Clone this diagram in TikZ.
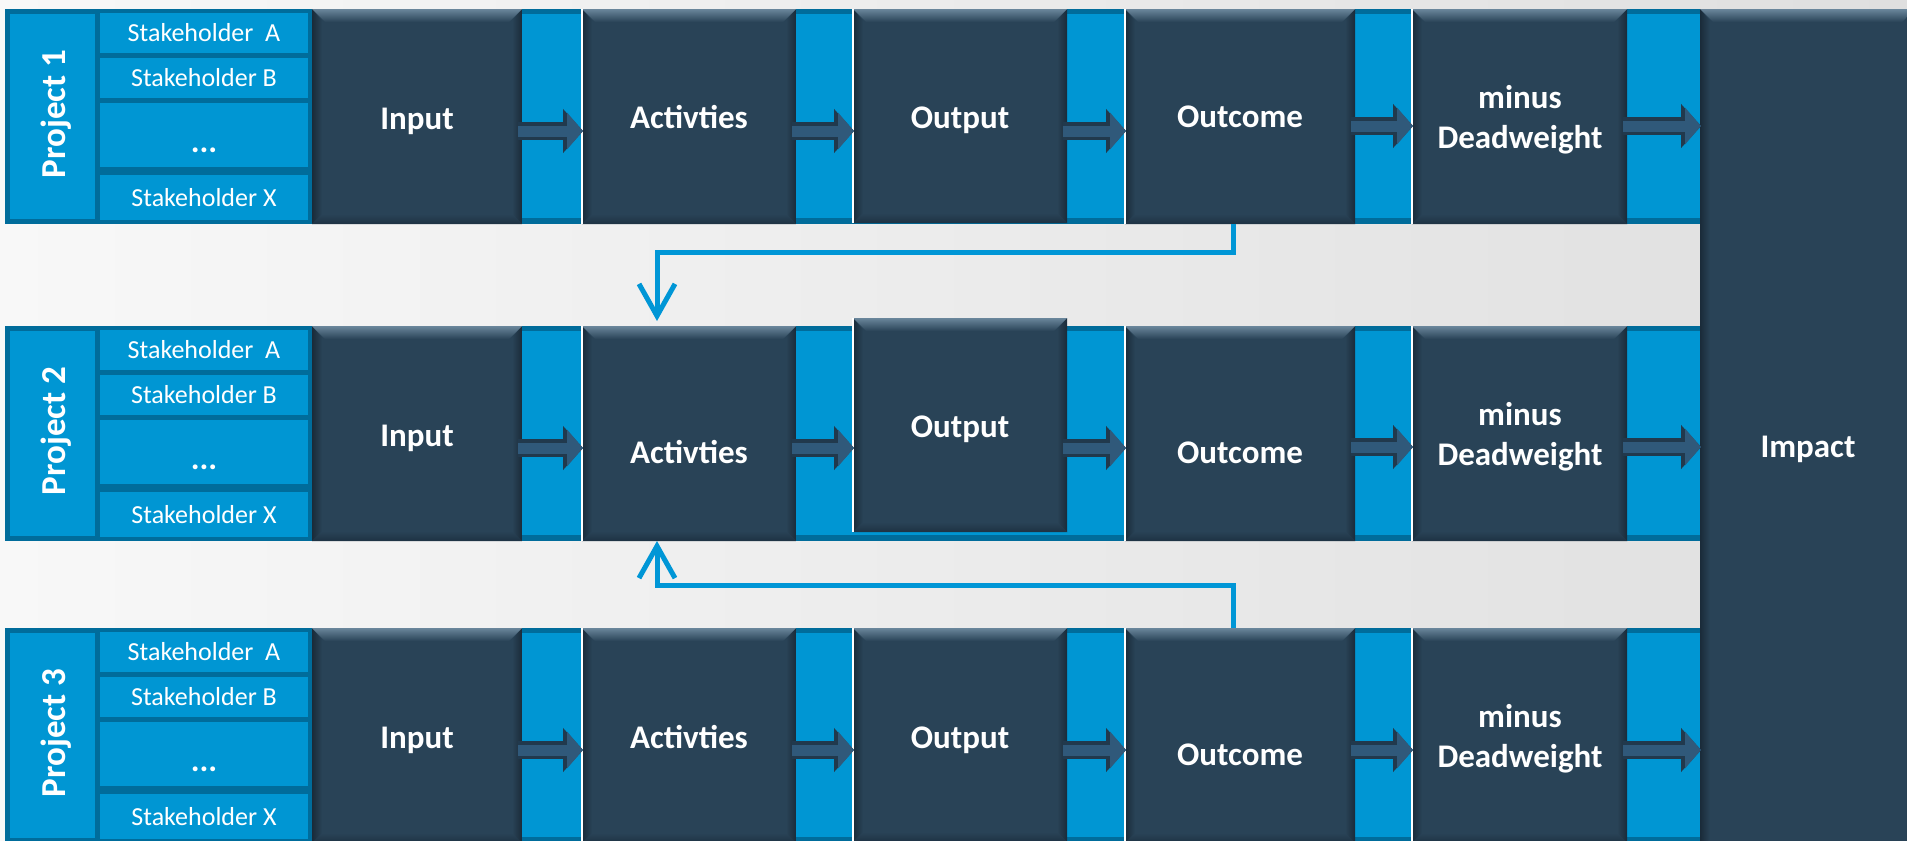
\documentclass[tikz,border=0pt]{standalone}
\usepackage{fontspec}
\setmainfont{Carlito}
\usetikzlibrary{arrows.meta,calc}
\definecolor{boxc}{HTML}{294357}
\definecolor{bevhi}{HTML}{6A869B}
\definecolor{sidedk}{HTML}{1A2B39}
\definecolor{botdk}{HTML}{1E3243}
\definecolor{bandblue}{HTML}{0096D3}
\definecolor{dblue}{HTML}{006C9B}
\definecolor{arrfill}{HTML}{30597A}
\definecolor{arrline}{HTML}{21394D}
\definecolor{connblue}{HTML}{0096D6}
\definecolor{bgl}{HTML}{F8F8F8}
\definecolor{bgr}{HTML}{DFDFDF}
\tikzset{
  dbox/.style={rectangle, fill=boxc, inner sep=0pt, outer sep=0pt, anchor=north west,
    path picture={
      \path (path picture bounding box.north west) coordinate (pNW)
            (path picture bounding box.north east) coordinate (pNE)
            (path picture bounding box.south west) coordinate (pSW)
            (path picture bounding box.south east) coordinate (pSE);
      \shade[left color=sidedk, right color=boxc] (pNW) -- ([shift={(10pt,-12pt)}]pNW) -- ([shift={(10pt,10pt)}]pSW) -- (pSW) -- cycle;
      \shade[left color=boxc, right color=sidedk] (pNE) -- ([shift={(-10pt,-12pt)}]pNE) -- ([shift={(-10pt,10pt)}]pSE) -- (pSE) -- cycle;
      \shade[top color=boxc, bottom color=botdk] (pSW) -- ([shift={(10pt,10pt)}]pSW) -- ([shift={(-10pt,10pt)}]pSE) -- (pSE) -- cycle;
      \shade[top color=bevhi, bottom color=boxc] (pNW) -- (pNE) -- ([shift={(-13pt,-13pt)}]pNE) -- ([shift={(13pt,-13pt)}]pNW) -- cycle;
    }},
  lbl/.style={text=white, font=\fontsize{33pt}{40pt}\selectfont\bfseries, inner sep=0pt, anchor=base},
  plbl/.style={text=white, font=\fontsize{35pt}{40pt}\selectfont\bfseries, inner sep=0pt, rotate=90},
  sk/.style={rectangle, fill=bandblue, inner sep=0pt, minimum width=208pt, text=white,
    font=\fontsize{26pt}{30pt}\selectfont},
  barrow/.style={draw=arrfill, line width=11pt, -{Triangle[width=36pt,length=16pt]},
    preaction={draw=arrline, line width=18pt, -{Triangle[width=43pt,length=20pt]}}},
  conn/.style={draw=connblue, line width=5pt, -{Straight Barb[length=32pt,width=36pt]}},
  wline/.style={draw=white, line width=1.2pt}
}
% #1 row top, #2 id, #3 project number, #4 activities baseline, #5 output box shift,
% #6 output baseline, #7 outcome baseline, #8 offset of the last two arrows
\newcommand\prow[8]{%
  \fill[bandblue] (5,#1) rectangle (1700,#1+215);
  \fill[dblue] (5,#1) rectangle (1700,#1+5);
  \fill[dblue] (5,#1+209) rectangle (1700,#1+215);
  \fill[dblue] (5,#1) rectangle (312,#1+215);
  \fill[bandblue] (10,#1+5) rectangle (95,#1+210);
  \node[plbl] (pr#2) at (56,#1+105) {Project #3};
  \node[sk, minimum height=40pt] (sa#2) at (204,#1+24) {Stakeholder\ \ A};
  \node[sk, minimum height=40pt] (sb#2) at (204,#1+69) {Stakeholder B};
  \node[sk, minimum height=64pt, text height=34pt, text depth=0pt] (sd#2) at (204,#1+126)
     {\fontsize{33pt}{40pt}\selectfont\bfseries ...};
  \node[sk, minimum height=45pt] (sx#2) at (204,#1+188.5) {Stakeholder X};
  \node[dbox, minimum width=210pt, minimum height=215pt] (in#2) at (312,#1) {};
  \node[dbox, minimum width=214pt, minimum height=215pt] (act#2) at (582,#1) {};
  \node[dbox, minimum width=214pt, minimum height=214pt] (op#2) at (853,#1+#5) {};
  \node[dbox, minimum width=230pt, minimum height=215pt] (oc#2) at (1125,#1) {};
  \node[dbox, minimum width=215pt, minimum height=215pt] (dw#2) at (1412,#1) {};
  \draw[wline] (act#2.north west) -- (act#2.south west);
  \draw[wline] (op#2.north west) -- (op#2.south west);
  \draw[wline] (oc#2.north west) -- (oc#2.south west);
  \draw[wline] (dw#2.north west) -- (dw#2.south west);
  \node[lbl] (in#2t) at (417,#1+120) {Input};
  \node[lbl] (act#2t) at (689,#1+#4) {Activties};
  \node[lbl] (op#2t) at (960,#1+#6) {Output};
  \node[lbl] (oc#2t) at (1240,#1+#7) {Outcome};
  \node[lbl, anchor=center, align=center] (dw#2t) at (1520,#1+111) {minus\\Deadweight};
  \coordinate (ar#2) at (0,#1+122);
  \coordinate (br#2) at (0,#1+122+#8);
  \draw[barrow] ($(in#2.east |- ar#2)+(-4,0)$) -- ($(act#2.west |- ar#2)+(1,0)$);
  \draw[barrow] ($(act#2.east |- ar#2)+(-4,0)$) -- ($(op#2.west |- ar#2)+(1,0)$);
  \draw[barrow] ($(op#2.east |- ar#2)+(-4,0)$) -- ($(oc#2.west |- ar#2)+(1,0)$);
  \draw[barrow] ($(oc#2.east |- br#2)+(-4,0)$) -- ($(dw#2.west |- br#2)+(1,0)$);
  \draw[barrow] ($(dw#2.east |- br#2)+(-4,0)$) -- ($(imp.west |- br#2)+(1,0)$);
}
\begin{document}
\begin{tikzpicture}[x=1pt,y=-1pt]
  \useasboundingbox (0,0) rectangle (1907,841);
  \shade[left color=bgl, right color=bgr] (0,0) rectangle (1907,841);
  \node[dbox, minimum width=215pt, minimum height=840pt] (imp) at (1700,9) {};
  \node[lbl] (impt) at (1808,457) {Impact};
  \prow{9}{1}{1}{119}{0}{119}{118}{-5}
  \prow{326}{2}{2}{137}{-8}{111}{137}{-1}
  \prow{628}{3}{3}{120}{0}{120}{137}{0}
  \draw[conn, shorten >=5pt] ([xshift=-7pt]oc1.south) -- ++(0,28) -| ([xshift=-32pt]act2.north);
  \draw[conn] ([xshift=-7pt]oc3.north) -- ++(0,-43) -| ([xshift=-32pt]act2.south);
\end{tikzpicture}
\end{document}
